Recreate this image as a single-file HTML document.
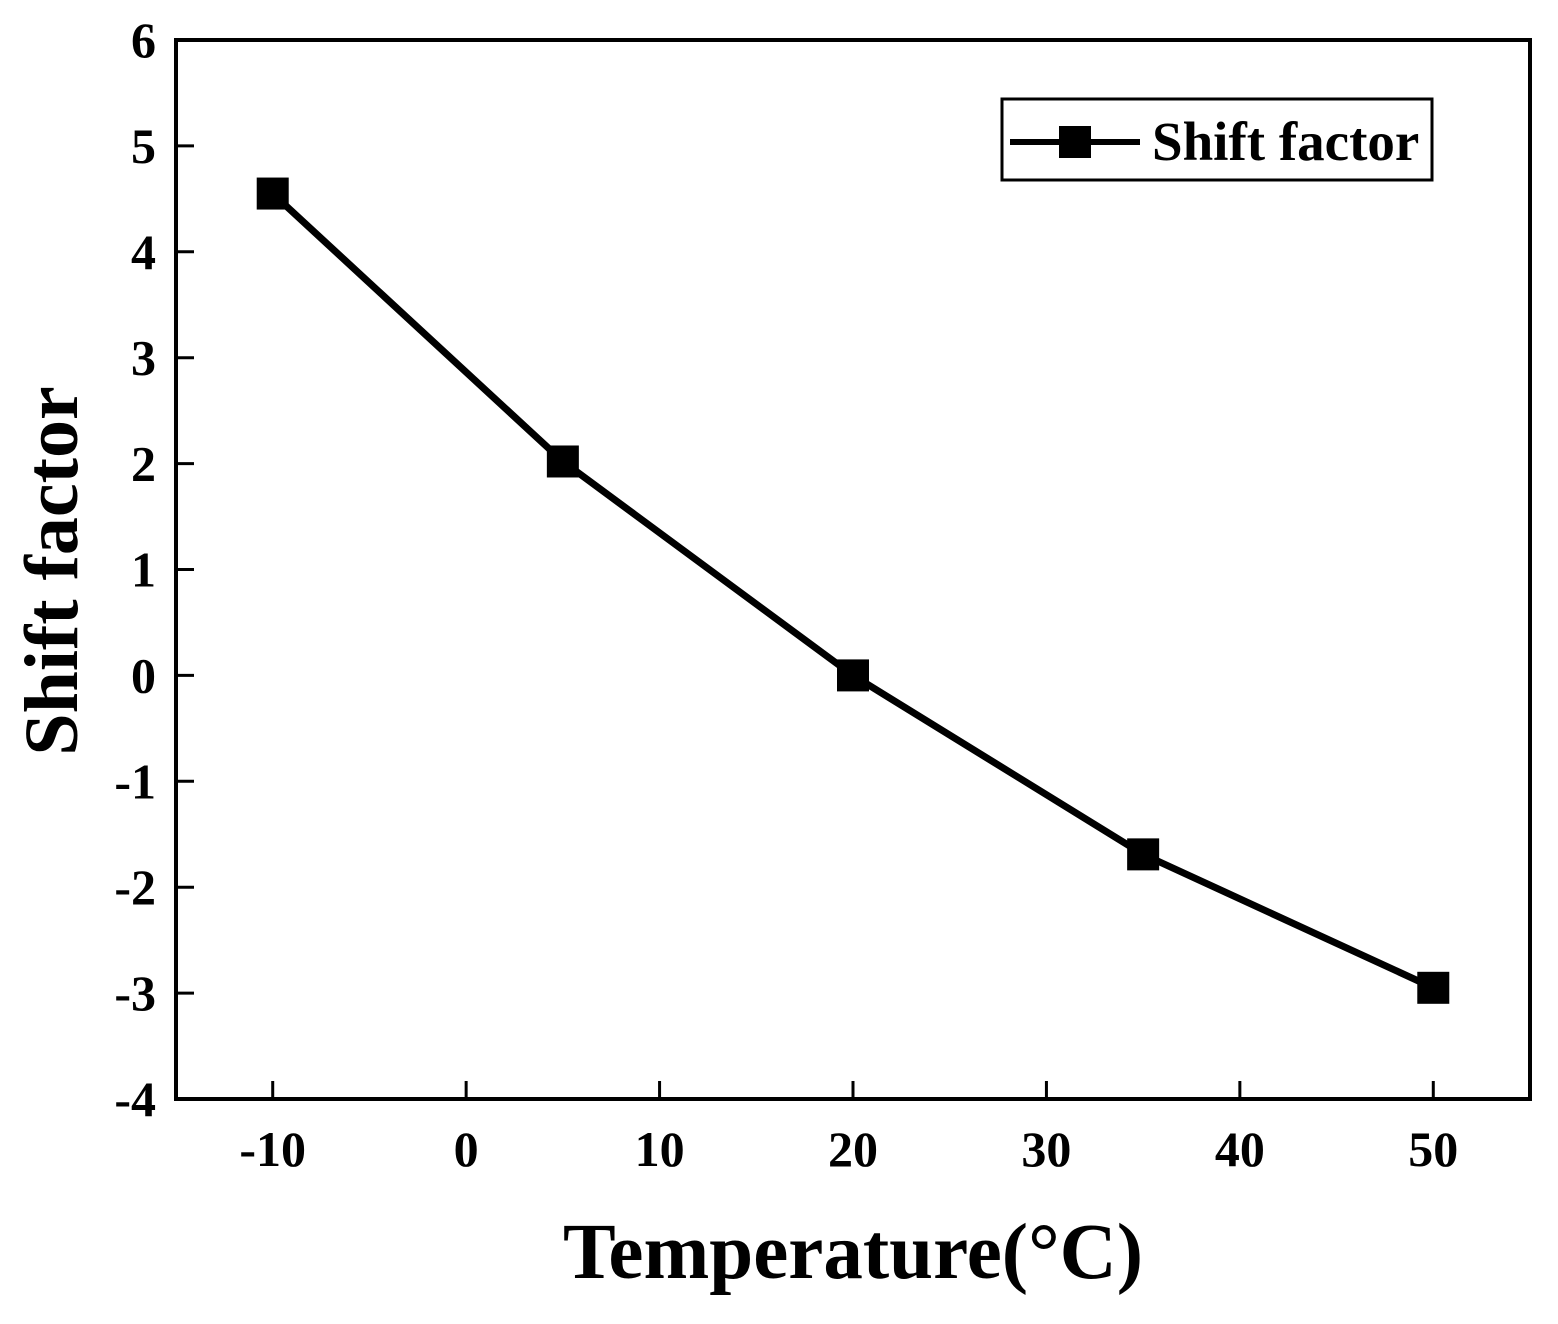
<!DOCTYPE html>
<html><head><meta charset="utf-8"><style>
html,body{margin:0;padding:0;background:#fff}
svg text{font-family:"Liberation Serif",serif;font-weight:bold;fill:#000}
</style></head><body>
<svg id="chart" width="1558" height="1319" viewBox="0 0 1558 1319" xmlns="http://www.w3.org/2000/svg">
<g id="ticks"></g>
<g id="series"></g>
<rect x="176" y="40" width="1354" height="1059" fill="none" stroke="#000" stroke-width="4"/>
<text x="853" y="1278" font-size="79" text-anchor="middle">Temperature(°C)</text>
<text transform="translate(77,571) rotate(-90)" font-size="76" text-anchor="middle">Shift factor</text>
<g>
<rect x="1002" y="99" width="430" height="81" fill="#fff" stroke="#000" stroke-width="3"/>
<line x1="1010" y1="142" x2="1140" y2="142" stroke="#000" stroke-width="6"/>
<rect x="1059" y="126" width="32" height="32" fill="#000"/>
<text x="1152" y="160" font-size="55">Shift factor</text>
</g>
</svg>
<script>
const temps=[-10,5,20,35,50];
const shift=[4.55,2.02,0,-1.69,-2.95];
const xTicks=[-10,0,10,20,30,40,50];
const yTicks=[-4,-3,-2,-1,0,1,2,3,4,5,6];
const L=176,R=1530,T=40,B=1099,xmin=-15,xmax=55,ymin=-4,ymax=6;
const xs=v=>L+(v-xmin)/(xmax-xmin)*(R-L);
const ys=v=>B-(v-ymin)/(ymax-ymin)*(B-T);
const NS="http://www.w3.org/2000/svg";
const tg=document.getElementById('ticks'),sg=document.getElementById('series');
function mk(tag,attrs,parent){const e=document.createElementNS(NS,tag);for(const k in attrs)e.setAttribute(k,attrs[k]);parent.appendChild(e);return e;}
xTicks.forEach(v=>{
 const l=mk('line',{x1:xs(v),x2:xs(v),y1:B,y2:B-18,stroke:'#000','stroke-width':3},tg);
 
 
 const t=mk('text',{x:xs(v),y:1166,'font-size':50,'text-anchor':'middle'},tg);
 t.textContent=v;
 
 
});
yTicks.forEach(v=>{
 const l=mk('line',{x1:L,x2:L+18,y1:ys(v),y2:ys(v),stroke:'#000','stroke-width':3},tg);
 
 
 const t=mk('text',{x:156,y:ys(v)+17,'font-size':50,'text-anchor':'end'},tg);
 t.textContent=v;
 
 
});
const pl=mk('polyline',{points:temps.map((t,i)=>xs(t)+','+ys(shift[i])).join(' '),fill:'none',stroke:'#000','stroke-width':7},sg);


temps.forEach((t,i)=>{
 const r=mk('rect',{x:xs(t)-16,y:ys(shift[i])-16,width:32,height:32,fill:'#000'},sg);
 
 
});
</script>
</body></html>
